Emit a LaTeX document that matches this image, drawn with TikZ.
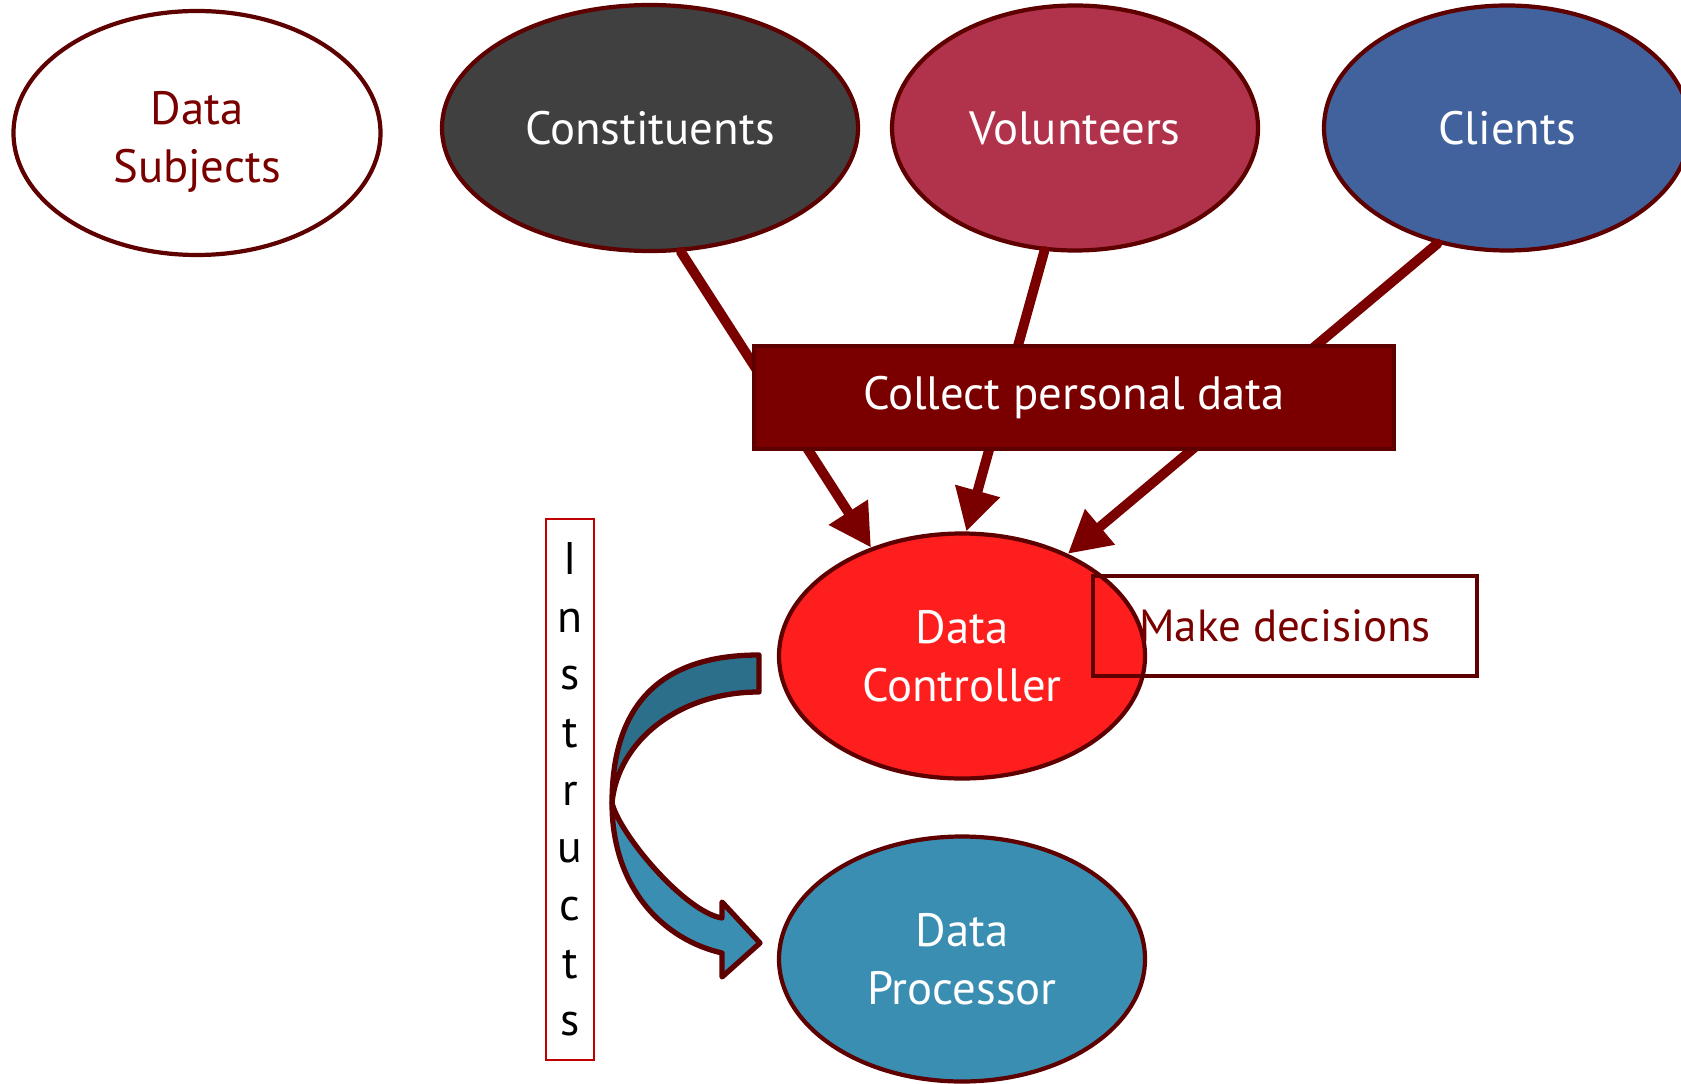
\documentclass[tikz,border=0pt]{standalone}
\usepackage{fontspec}
\setmainfont{PT Sans}
\usepackage{xcolor}
\usetikzlibrary{arrows.meta, shapes.geometric}

\definecolor{edge}{HTML}{5E0000}
\definecolor{brick}{HTML}{7A0000}
\definecolor{charcoal}{HTML}{404040}
\definecolor{rosewine}{HTML}{B0324B}
\definecolor{denim}{HTML}{41629D}
\definecolor{signal}{HTML}{FF1E1E}
\definecolor{procblue}{HTML}{3A8EB1}
\definecolor{deepblue}{HTML}{2C6F8B}
\definecolor{alert}{HTML}{C00000}

\begin{document}
\begin{tikzpicture}[
    every node/.style={font=\fontsize{13.3}{16.5}\selectfont},
    bubble/.style={ellipse, draw=edge, line width=1.2pt, minimum width=36.6mm,
                   minimum height=24.5mm, align=center, text=white},
    panel/.style={draw=edge, line width=1.2pt, align=center},
    feed/.style={draw=brick, line width=2.8pt, line cap=round,
                 -{Triangle[length=4.2mm,width=4.4mm]}},
]
  \useasboundingbox (0,0) rectangle (16.81,-10.83);

  % the people data comes from
  \node[bubble, fill=white, text=brick, minimum width=36.7mm, minimum height=24.4mm]
        (subj) at (1.97,-1.33)
        {\raisebox{-0.9mm}[\height][\depth]{\begin{tabular}{@{}c@{}}Data\\Subjects\end{tabular}}};
  \node[bubble, fill=charcoal, minimum width=41.6mm, minimum height=24.6mm]
        (const) at (6.50,-1.28) {Constituents};
  \node[bubble, fill=rosewine] (vol) at (10.75,-1.28) {Volunteers};
  \node[bubble, fill=denim] (cli) at (15.07,-1.28) {Clients};

  \node[bubble, fill=signal] (ctrl) at (9.62,-6.56) {Data\\Controller};
  \node[bubble, fill=procblue] (proc) at (9.62,-9.59) {Data\\Processor};

  \draw[feed] (const.-76) -- (ctrl.130);
  \draw[feed] (vol.-104) -- (ctrl.88);
  \draw[feed] (cli.-121) -- (ctrl.44);

  \node[panel, fill=brick, text=white, minimum width=64mm, minimum height=10.3mm]
        (collect) at (10.74,-3.975) {Collect personal data};
  \node[panel, text=brick, minimum width=38.4mm, minimum height=10mm,
        font=\fontsize{12.8}{15}\selectfont]
        (decide) at (12.85,-6.26) {Make decisions};

  \node[draw=alert, line width=0.6pt, minimum width=4.8mm, minimum height=54.1mm,
        inner sep=0pt, align=center, font=\fontsize{13}{16.4}\selectfont]
        (instr) at (5.70,-7.895) {I\\n\\s\\t\\r\\u\\c\\t\\s};

  % curved arrow from controller round to processor
  \filldraw[fill=procblue, draw=edge, line width=1.5pt, line join=round]
    (6.12,-8.03) .. controls (6.12,-8.90) and (6.65,-9.40) .. (7.22,-9.53)
    -- (7.22,-9.77) -- (7.60,-9.43) -- (7.22,-9.02) -- (7.22,-9.18)
    .. controls (6.85,-9.12) and (6.20,-8.35) .. (6.12,-8.03) -- cycle;
  \filldraw[fill=deepblue, draw=edge, line width=1.5pt, line join=round]
    (7.59,-6.55) .. controls (6.60,-6.55) and (6.12,-7.05) .. (6.12,-8.03)
    .. controls (6.18,-7.40) and (6.80,-6.92) .. (7.59,-6.92) -- cycle;
\end{tikzpicture}
\end{document}
